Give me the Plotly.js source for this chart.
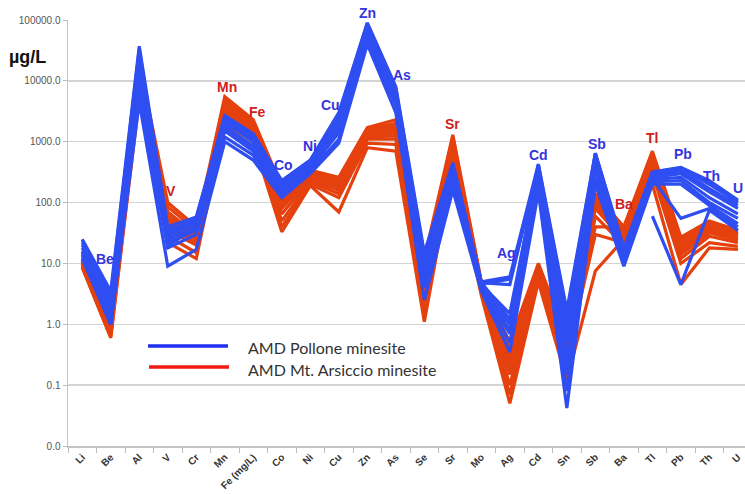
<!DOCTYPE html>
<html>
<head>
<meta charset="utf-8">
<script src="https://cdn.plot.ly/plotly-3.0.1.min.js"></script>
<style>html,body{margin:0;padding:0;background:#fff;}#chart{width:745px;height:494px;}</style>
</head>
<body>
<div id="chart"></div>
<script>
// Categories (elements)
var categories = ["Li","Be","Al","V","Cr","Mn","Fe (mg/L)","Co","Ni","Cu","Zn","As","Se","Sr","Mo","Ag","Cd","Sn","Sb","Ba","Tl","Pb","Th","U"];

// Y tick labels
var yTickVals = [0.01, 0.1, 1, 10, 100, 1000, 10000, 100000];
var yTickText = ["0.0","0.1","1.0","10.0","100.0","1000.0","10000.0","100000.0"];

// AMD Pollone minesite samples (blue)
var pollone1  = [25, 3.5, 37000, 40, 58, 2700, 1350, 230, 500, 3000, 90000, 8000, 15, 450, 5.0, 6.0, 430, 1.7, 650, 18, 320, 380, 230, 110];
var pollone2  = [20, 2.2, 30000, 35, 50, 2400, 1200, 210, 470, 2600, 85000, 7000, 12, 400, 4.8, 4.5, 400, 1.0, 600, 16, 300, 360, 200, 100];
var pollone3  = [18, 1.8, 22000, 30, 45, 2200, 1000, 190, 430, 2200, 75000, 6000, 10, 350, 4.5, 1.5, 350, 0.5, 550, 14, 280, 330, 170, 90];
var pollone4  = [16, 1.5, 15000, 25, 40, 1800, 850, 170, 400, 1800, 65000, 5000, 8, 300, 4.2, 1.0, 300, 0.3, 450, 12, 260, 300, 150, 80];
var pollone5  = [14, 1.2, 10000, 22, 35, 1500, 700, 150, 360, 1400, 55000, 4500, 6, 250, 4.0, 0.7, 250, 0.15, 350, 11, 240, 260, 120, 65];
var pollone6  = [13, 1.0, 7000, 18, 30, 1200, 600, 130, 330, 1100, 48000, 4000, 4, 200, 3.8, 0.5, 200, 0.08, 250, 10, 220, 230, 100, 55];
var pollone7  = [12, 1.0, 4500, 9, 17, 1000, 500, 120, 300, 950, 40000, 3000, 2.5, 160, 3.5, 0.35, 150, 0.042, 200, 9, 200, 200, 90, 45];
var pollone8  = [22, 2.5, 26000, 28, 48, 2000, 1100, 200, 450, 2000, 80000, 6500, 11, 380, 4.6, 5.5, 380, 0.7, 620, 15, 250, 55, 80, 40];
var pollone9  = [15, 1.3, 12000, 20, 38, 1600, 750, 160, 380, 1600, 60000, 5500, 5, 280, 4.1, 0.8, 280, 0.2, 400, null, 60, 4.5, 75, 35];
var pollone10 = [24, 3.0, 33000, 32, 55, 2500, 1300, 220, 490, 2800, 88000, 7500, 13, 420, 4.9, 1.2, 420, 1.4, 640, 17, 310, 370, 220, 105];

// AMD Mt. Arsiccio minesite samples (red)
var arsiccio1  = [12, 1.0, 20000, 100, 40, 5500, 2300, 180, 340, 260, 1700, 2300, 12, 1300, 5.0, 0.5, 10, 0.6, 140, 40, 700, 27, 50, 35];
var arsiccio2  = [11.5, 0.95, 17000, 85, 35, 5000, 2100, 150, 320, 240, 1600, 2000, 10, 1200, 4.8, 0.4, 9.5, 0.5, 130, 36, 650, 24, 46, 33];
var arsiccio3  = [11, 0.9, 15000, 70, 30, 4500, 1900, 120, 300, 220, 1500, 1800, 8, 1100, 4.5, 0.3, 9, 0.4, 120, 33, 600, 20, 42, 30];
var arsiccio4  = [10.5, 0.85, 13000, 60, 28, 4000, 1700, 100, 280, 200, 1400, 1600, 6, 1000, 4.3, 0.25, 8.5, 0.35, 110, 30, 550, 18, 38, 28];
var arsiccio5  = [10, 0.8, 11000, 50, 25, 3600, 1600, 80, 260, 180, 1300, 1400, 4, 900, 4.1, 0.2, 8, 0.3, 100, 28, 500, 16, 35, 26];
var arsiccio6  = [9.5, 0.75, 9500, 42, 22, 3200, 1450, 65, 240, 160, 1200, 1250, 3, 800, 3.9, 0.15, 7.5, 0.25, 90, 26, 450, 14, 32, 24];
var arsiccio7  = [9, 0.7, 8000, 35, 20, 2800, 1300, 50, 220, 140, 1100, 1100, 2, 700, 3.7, 0.1, 7, 0.2, 80, 24, 400, 12, 28, 22];
var arsiccio8  = [8.5, 0.6, 6500, 28, 15, 2400, 1150, 40, 200, 120, 950, 900, 1.5, 600, 3.4, 0.07, 6, 0.15, 60, 20, 300, 10, 22, 19];
var arsiccio9  = [8.8, 0.62, 5000, 22, 12, 2000, 1000, 33, 190, 70, 800, 700, 1.1, 400, 3.0, 0.05, 5, 0.12, 7.5, 25, 200, 4.5, 18, 17];
var arsiccio10 = [10.2, 0.82, 12000, 45, 33, 3800, 1750, 90, 290, 250, 1550, 1500, 5, 950, 4.2, 0.35, 8.8, 0.45, 40, 40, 480, 22, 40, 29];
var arsiccio11 = [9.8, 0.78, 10000, 38, 26, 3400, 1500, 110, 250, 190, 1250, 1700, 7, 850, 4.0, 0.18, 7.8, 0.28, 30, 22, 420, 15, 34, 25];
var arsiccio12 = [11, 0.88, 14000, 55, 32, 4200, 1800, 140, 310, 210, 1450, 1900, 9, 1050, 4.6, 0.28, 9.2, 0.38, 125, 34, 620, 19, 44, 31];

var polloneSeries = [pollone1, pollone2, pollone3, pollone4, pollone5, pollone6, pollone7, pollone8, pollone9, pollone10];
var arsiccioSeries = [arsiccio1, arsiccio2, arsiccio3, arsiccio4, arsiccio5, arsiccio6, arsiccio7, arsiccio8, arsiccio9, arsiccio10, arsiccio11, arsiccio12];

// Element labels on the chart
var labelTexts  = ["Be","V","Mn","Fe","Co","Ni","Cu","Zn","As","Sr","Ag","Cd","Sb","Ba","Tl","Pb","Th","U"];
var labelGroups = ["b","r","r","r","b","b","b","b","b","r","b","b","b","r","r","b","b","b"];

var BLUE = "#2f4ef2";
var RED = "#e5410e";
var W = 745, H = 494, ML = 68, MR = 0, MT = 20, MB = 48;
function px(x){ return (x - ML) / (W - ML - MR); }
function py(y){ return (H - MB - y) / (H - MT - MB); }

var labelPos = [[105,259],[171,191],[227,87],[257,112],[283,165],[310,146],[330,105],[367,13],[402,75],[452,124],[507,253],[538,155],[597,144],[624,204],[652,138],[683,154],[711,176],[738,188]];

var traces = [];
arsiccioSeries.forEach(function(s){
  traces.push({x: categories, y: s, type: "scatter", mode: "lines", connectgaps: false,
    line: {color: RED, width: 3.2}, showlegend: false, hoverinfo: "skip"});
});
polloneSeries.forEach(function(s){
  traces.push({x: categories, y: s, type: "scatter", mode: "lines", connectgaps: false,
    line: {color: BLUE, width: 3.2}, showlegend: false, hoverinfo: "skip"});
});

var annotations = labelTexts.map(function(t, i){
  return {text: t, xref: "paper", yref: "paper", x: px(labelPos[i][0]), y: py(labelPos[i][1]),
    xanchor: "center", yanchor: "middle", showarrow: false,
    font: {family: "Liberation Sans, Arial, sans-serif", size: 14, weight: "bold",
      color: labelGroups[i] === "b" ? "#3434e0" : "#d0201c"}};
});
annotations.push({text: "µg/L", xref: "paper", yref: "paper", x: px(27), y: py(57), xanchor: "center", yanchor: "middle",
  showarrow: false, font: {family: "Liberation Sans, Arial, sans-serif", size: 18, weight: "bold", color: "#111"}});
annotations.push({text: "AMD Pollone minesite", xref: "paper", yref: "paper", x: px(246), y: py(347), xanchor: "left", yanchor: "middle",
  showarrow: false, font: {family: "Lato, sans-serif", size: 16, color: "#333"}});
annotations.push({text: "AMD Mt. Arsiccio minesite", xref: "paper", yref: "paper", x: px(246), y: py(369), xanchor: "left", yanchor: "middle",
  showarrow: false, font: {family: "Lato, sans-serif", size: 16, color: "#333"}});

var shapes = [
  {type: "line", xref: "paper", yref: "paper", x0: px(148), x1: px(228), y0: py(346), y1: py(346), line: {color: "#1f2ff0", width: 3.5}},
  {type: "line", xref: "paper", yref: "paper", x0: px(149), x1: px(229), y0: py(367), y1: py(367), line: {color: "#f01a10", width: 3.5}}
];

var layout = {
  width: W, height: H,
  margin: {l: ML, r: MR, t: MT, b: MB, pad: 0},
  paper_bgcolor: "#fff", plot_bgcolor: "#fff",
  showlegend: false,
  xaxis: {type: "category", range: [-0.5, 23.25], tickson: "boundaries", ticks: "outside", ticklen: 5,
    tickcolor: "#bbb", showgrid: false, showline: true, linecolor: "#c4c4c4", linewidth: 1.5,
    tickangle: -45, tickfont: {family: "Liberation Sans, Arial, sans-serif", size: 10, weight: "bold", color: "#333"},
    zeroline: false},
  yaxis: {type: "log", range: [-2, 5], tickvals: yTickVals, ticktext: yTickText, ticks: "outside", ticklen: 4,
    tickcolor: "#bbb", showgrid: true, gridcolor: "#d4d4d4", gridwidth: 1.5, showline: true, linecolor: "#c4c4c4",
    linewidth: 1.5, tickfont: {family: "Liberation Sans, Arial, sans-serif", size: 10, color: "#555"}, zeroline: false},
  annotations: annotations,
  shapes: shapes
};

Plotly.newPlot("chart", traces, layout, {staticPlot: true, displayModeBar: false});
</script>
</body>
</html>
